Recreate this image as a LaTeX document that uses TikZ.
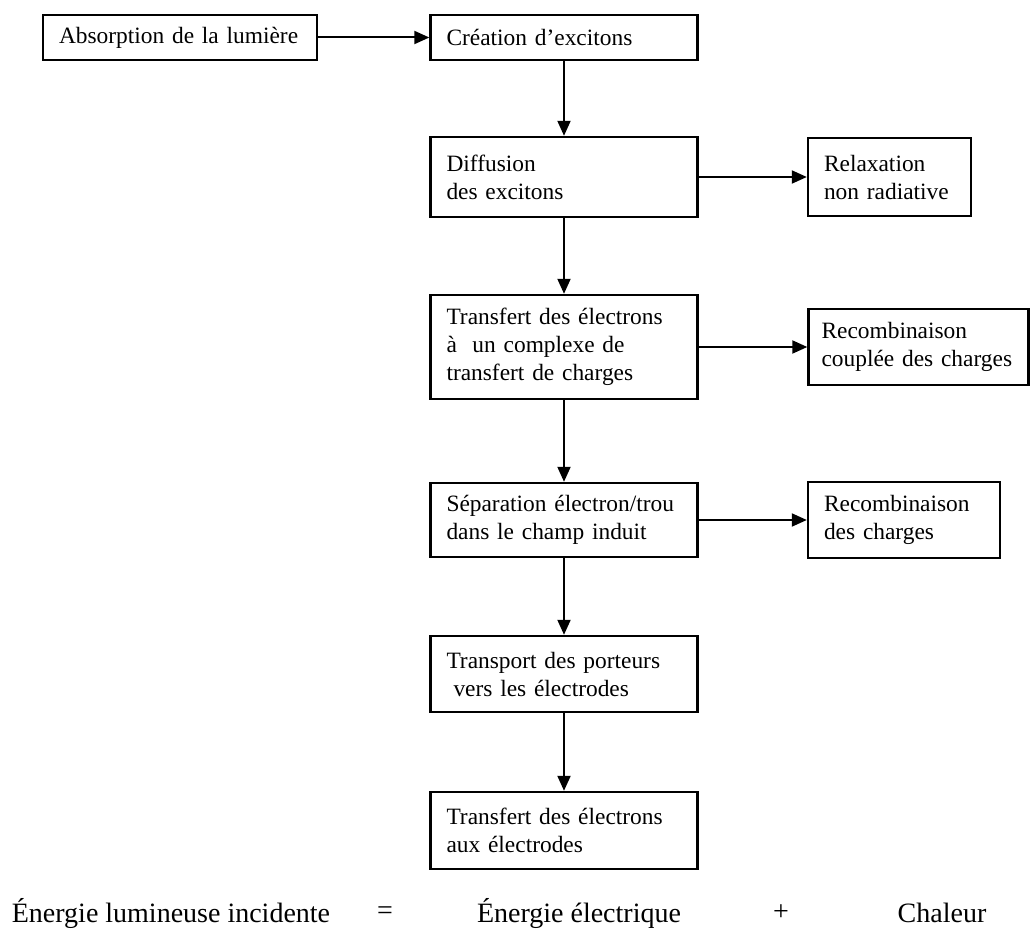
\documentclass[tikz,border=0pt]{standalone}
\usepackage{fontspec}
\setmainfont{Liberation Serif}
\usetikzlibrary{arrows.meta}

\begin{document}
\begin{tikzpicture}[
  x=0.5pt,y=-0.5pt,
  flow/.style={-{Triangle[length=7.5pt,width=6.5pt]}, draw=black,
    line width=1pt},
  stage/.style={draw=black, line width=1.2pt, align=left,
    inner xsep=8pt, inner ysep=2pt, font=\fontsize{11.7}{14}\selectfont},
  outcome/.style={stage},
  balance/.style={inner sep=0pt, font=\fontsize{14}{16}\selectfont}
]
\useasboundingbox (0,0) rectangle (1031,936);

% Main column of stages.
\node[stage, text width=121pt, minimum height=22.5pt]
  (absorption) at (180,37.5) {Absorption de la lumière};
\node[stage, text width=117.5pt, minimum height=22.5pt]
  (creation) at (564,37.5) {Création d’excitons};
\node[stage, text width=117.5pt, minimum height=40pt]
  (diffusion) at (564,177) {Diffusion\\des excitons};
\node[stage, text width=117.5pt, minimum height=52pt]
  (transferCT) at (564,347)
  {Transfert des électrons\\à~~un complexe de\\transfert de charges};
\node[stage, text width=117.5pt, minimum height=37pt]
  (separation) at (564,520)
  {Séparation électron/trou\\dans le champ induit};
\node[stage, text width=117.5pt, minimum height=38pt]
  (transport) at (564,674)
  {Transport des porteurs\\\hspace*{0.3em}vers les électrodes};
\node[stage, text width=117.5pt, minimum height=38.5pt]
  (collection) at (564,830.5)
  {Transfert des électrons\\aux électrodes};

% Loss channels on the right.
\node[outcome, text width=65.5pt, minimum height=39pt]
  (relaxation) at (889.5,177) {Relaxation\\non radiative};
\node[outcome, inner xsep=6.5pt, text width=97pt, minimum height=38pt]
  (recombCT) at (918.5,347) {Recombinaison\\couplée des charges};
\node[outcome, text width=80pt, minimum height=38pt]
  (recombCharges) at (904,520) {Recombinaison\\des charges};

\draw[flow] (absorption.east) -- (creation.west);
\draw[flow] (creation.south) -- (diffusion.north);
\draw[flow] (diffusion.south) -- (transferCT.north);
\draw[flow] (transferCT.south) -- (separation.north);
\draw[flow] (separation.south) -- (transport.north);
\draw[flow] (transport.south) -- (collection.north);

\draw[flow] (diffusion.east) -- (relaxation.west);
\draw[flow] (transferCT.east) -- (recombCT.west);
\draw[flow] (separation.east) -- (recombCharges.west);

% Energy balance.
\node[balance] (lightEnergy) at (171,913) {Énergie lumineuse incidente};
\node[balance] (eqSign) at (385,913) {=};
\node[balance] (elecEnergy) at (579,913) {Énergie électrique};
\node[balance] (plusSign) at (781,913) {+};
\node[balance] (heat) at (942,913) {Chaleur};

\end{tikzpicture}
\end{document}
